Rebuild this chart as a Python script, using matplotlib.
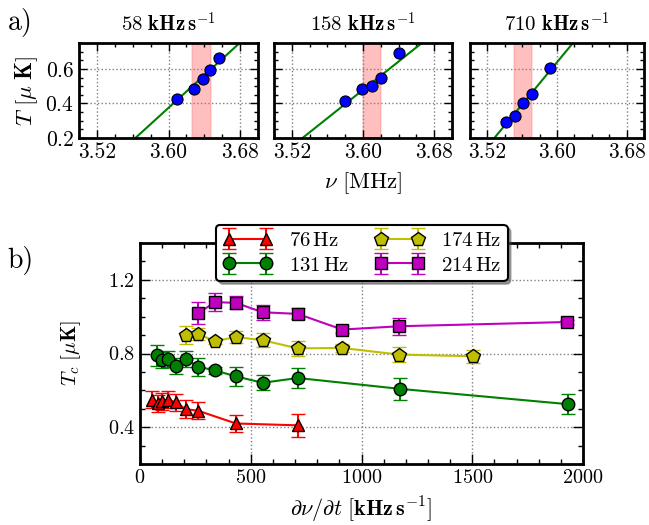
import numpy as np
import matplotlib
matplotlib.use("Agg")
import matplotlib.pyplot as plt
from matplotlib.ticker import MultipleLocator, FormatStrFormatter

plt.rcParams['font.family'] = 'serif'
plt.rcParams['font.serif'] = ['cmr10']
plt.rcParams['mathtext.fontset'] = 'cm'
plt.rcParams['axes.formatter.use_mathtext'] = True
plt.rcParams['xtick.direction'] = 'in'
plt.rcParams['ytick.direction'] = 'in'
plt.rcParams['xtick.top'] = True
plt.rcParams['ytick.right'] = True

# ---- panel a) : temperature vs final rf frequency ----
rates = ["58", "158", "710"]
nu_a = [[3.609, 3.628, 3.638, 3.646, 3.656],
        [3.580, 3.599, 3.610, 3.620, 3.641]]
nu_a.append([3.541, 3.552, 3.561, 3.571, 3.592])
T_a = [[0.423, 0.485, 0.539, 0.591, 0.665],
       [0.417, 0.485, 0.500, 0.545, 0.694],
       [0.294, 0.329, 0.404, 0.456, 0.607]]
band_lo = [3.626, 3.600, 3.551]
band_hi = [3.647, 3.620, 3.571]
fit_slope = [4.72, 4.10, 6.09]
fit_nu0 = [3.563, 3.532, 3.528]   # where fit crosses 0.2 uK
nu_err = 0.005
T_err = 0.015

# ---- panel b) : Tc vs sweep rate ----
x76 = [53, 83, 98, 125, 161, 206, 263, 433, 712]
y76 = [0.549, 0.530, 0.540, 0.550, 0.535, 0.498, 0.489, 0.420, 0.410]
e76 = [0.045, 0.045, 0.045, 0.045, 0.045, 0.05, 0.045, 0.048, 0.063]

x131 = [78, 99, 125, 161, 206, 263, 339, 432, 554, 712, 1174, 1931]
y131 = [0.790, 0.765, 0.770, 0.733, 0.770, 0.728, 0.708, 0.676, 0.641, 0.667, 0.608, 0.525]
e131 = [0.057, 0.045, 0.045, 0.045, 0.043, 0.048, 0.02, 0.05, 0.04, 0.054, 0.061, 0.054]

x174 = [206, 263, 339, 432, 554, 712, 913, 1171, 1502]
y174 = [0.902, 0.906, 0.866, 0.890, 0.872, 0.828, 0.830, 0.794, 0.785]
e174 = [0.049, 0.032, 0.015, 0.032, 0.038, 0.04, 0.02, 0.04, 0.035]

x214 = [263, 339, 432, 554, 712, 913, 1171, 1929]
y214 = [1.019, 1.079, 1.075, 1.024, 1.015, 0.930, 0.948, 0.971]
e214 = [0.058, 0.048, 0.036, 0.04, 0.03, 0.02, 0.045, 0.01]

fig = plt.figure(figsize=(6.49, 5.25), dpi=100)

lefts = [79, 274, 470]
rights = [258, 452, 644]
for i in range(3):
    ax = fig.add_axes([lefts[i] / 649, 1 - 138 / 525,
                       (rights[i] - lefts[i]) / 649, 95 / 525])
    ax.axvspan(band_lo[i], band_hi[i], color='r', alpha=0.25, lw=1.2,
               ec=(1, 0.4, 0.4), zorder=1)
    xx = np.array([3.45, 3.75])
    ax.plot(xx, 0.2 + fit_slope[i] * (xx - fit_nu0[i]), color='g', lw=1.5, zorder=2)
    ax.errorbar(nu_a[i], T_a[i], xerr=nu_err, yerr=T_err, fmt='o', color='b',
                mec='k', mew=0.8, ms=8, ecolor='b', capsize=2.5, elinewidth=1,
                zorder=3)
    ax.set_xlim(3.50, 3.70)
    ax.set_ylim(0.2, 0.75)
    ax.set_xticks([3.52, 3.60, 3.68])
    ax.xaxis.set_minor_locator(MultipleLocator(0.02))
    ax.xaxis.set_major_formatter(FormatStrFormatter('%.2f'))
    ax.set_yticks([0.2, 0.4, 0.6])
    ax.yaxis.set_minor_locator(MultipleLocator(0.05))
    ax.tick_params(which='both', direction='in', top=True, right=True, labelsize=15.5,
                   width=1)
    ax.tick_params(which='major', length=6)
    ax.tick_params(which='minor', length=3)
    ax.grid(True, which='major', ls=':', color='gray', lw=1)
    for s in ax.spines.values():
        s.set_linewidth(2)
    ax.set_title(r'$%s\ \mathbf{kHz}\,\mathbf{s}^{-1}$' % rates[i], fontsize=15, pad=8)
    if i == 0:
        ax.set_ylabel(r'$T\ [\mu\ \mathbf{K}]$', fontsize=16.5, labelpad=4)
    else:
        ax.set_yticklabels([])
    if i == 1:
        ax.set_xlabel(r'$\nu\ [\mathrm{MHz}]$', fontsize=16.5, labelpad=6)

fig.text(0.012, 0.985, 'a)', fontsize=20, va='top', ha='left')
fig.text(0.012, 0.532, 'b)', fontsize=20, va='top', ha='left')

ax = fig.add_axes([140 / 649, 1 - 464 / 525, 443 / 649, 221 / 525])
kw = dict(mec='k', mew=1, capsize=5, elinewidth=1.5, capthick=1.5, lw=1.5)
h1 = ax.errorbar(x76, y76, yerr=e76, fmt='-^', color='r', ms=9, label=r'$76\,\mathrm{Hz}$', **kw)
h2 = ax.errorbar(x131, y131, yerr=e131, fmt='-o', color='g', ms=9, label=r'$131\,\mathrm{Hz}$', **kw)
h3 = ax.errorbar(x174, y174, yerr=e174, fmt='-p', color='y', ms=10, label=r'$174\,\mathrm{Hz}$', **kw)
h4 = ax.errorbar(x214, y214, yerr=e214, fmt='-s', color='m', ms=8.5, label=r'$214\,\mathrm{Hz}$', **kw)
ax.set_xlim(0, 2000)
ax.set_ylim(0.2, 1.4)
ax.set_xticks([0, 500, 1000, 1500, 2000])
ax.xaxis.set_minor_locator(MultipleLocator(100))
ax.set_yticks([0.4, 0.8, 1.2])
ax.yaxis.set_minor_locator(MultipleLocator(0.1))
ax.tick_params(axis='both', labelsize=14.5)
ax.tick_params(which='both', direction='in', top=True, right=True, width=1)
ax.tick_params(which='major', length=7)
ax.tick_params(which='minor', length=3.5)
ax.grid(True, which='major', ls=':', color='gray', lw=1)
for s in ax.spines.values():
    s.set_linewidth(2)
ax.set_xlabel(r'$\partial\nu/\partial t\ [\mathbf{kHz}\,\mathbf{s}^{-1}]$', fontsize=16, labelpad=6)
ax.set_ylabel(r'$T_c\ [\mu\mathbf{K}]$', fontsize=15, labelpad=18)
leg = ax.legend(handles=[h1, h2, h3, h4], ncol=2, numpoints=2, fontsize=15,
                loc='upper center', bbox_to_anchor=(0.501, 1.081), borderaxespad=0,
                fancybox=True, shadow=True, framealpha=1, edgecolor='k',
                columnspacing=1.2, handlelength=2.4, borderpad=0.3, labelspacing=0.3)
leg.get_frame().set_linewidth(1.5)

fig.savefig('out.png', dpi=100)
